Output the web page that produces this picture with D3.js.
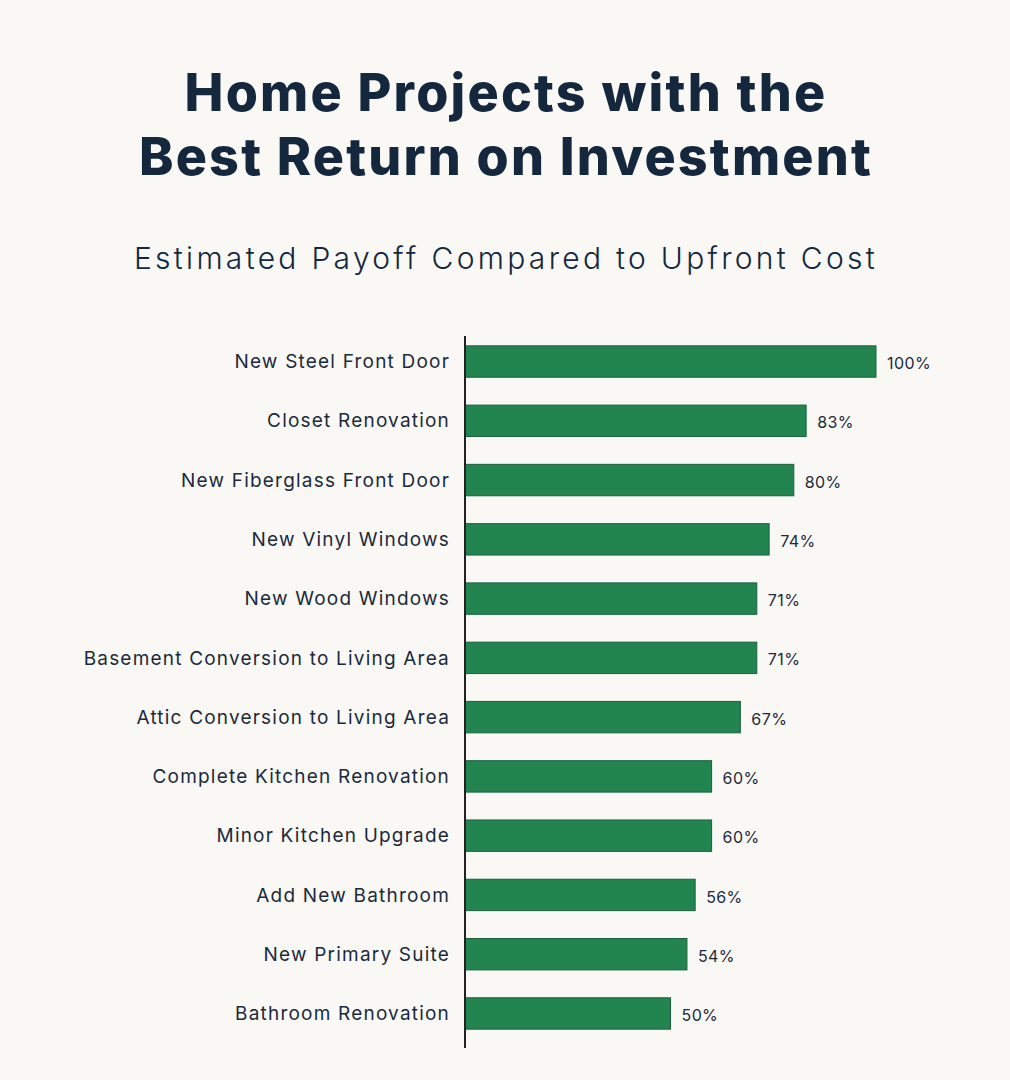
<!DOCTYPE html>
<html>
<head>
<meta charset="utf-8">
<script src="https://cdn.jsdelivr.net/npm/d3@7"></script>
<style>
  html, body { margin: 0; padding: 0; background: #f9f8f5; }
  #chart { width: 1010px; height: 1080px; }
  text { font-family: "Inter", "Noto Sans", sans-serif; }
</style>
</head>
<body>
<div id="chart"></div>
<script>
// Data
const projects = [
    "New Steel Front Door",
    "Closet Renovation",
    "New Fiberglass Front Door",
    "New Vinyl Windows",
    "New Wood Windows",
    "Basement Conversion to Living Area",
    "Attic Conversion to Living Area",
    "Complete Kitchen Renovation",
    "Minor Kitchen Upgrade",
    "Add New Bathroom",
    "New Primary Suite",
    "Bathroom Renovation"
];
const payoff = [100, 83, 80, 74, 71, 71, 67, 60, 60, 56, 54, 50];
const titleLines = ["Home Projects with the", "Best Return on Investment"];
const subtitle = "Estimated Payoff Compared to Upfront Cost";

// Colors
const bar_color = "#22844f";
const bar_edge = "#1b6140";
const text_color = "#1c2a3c";
const title_color = "#14273d";

const W = 1010, H = 1080;
const svg = d3.select("#chart").append("svg")
    .attr("width", W)
    .attr("height", H);

svg.append("rect").attr("width", W).attr("height", H).attr("fill", "#f9f8f5");

// Titles
svg.selectAll(".title")
    .data(titleLines)
    .enter().append("text")
    .attr("class", "title")
    .attr("x", 506)
    .attr("y", (d, i) => 111 + i * 64)
    .attr("text-anchor", "middle")
    .style("font-size", "52px")
    .style("font-weight", 800)
    .style("letter-spacing", "2.2px")
    .style("fill", title_color)
    .text(d => d);

svg.append("text")
    .attr("x", 506)
    .attr("y", 269)
    .attr("text-anchor", "middle")
    .style("font-size", "30px")
    .style("font-weight", 300)
    .style("letter-spacing", "3.3px")
    .style("fill", title_color)
    .text(subtitle);

// Scales
const x0 = 465;
const xScale = d3.scaleLinear().domain([0, 100]).range([x0, 876]);
const yScale = d3.scaleBand()
    .domain(projects)
    .range([331, 1044])
    .paddingInner(0.47)
    .paddingOuter(0.25);

// Bars
svg.selectAll(".bar")
    .data(projects)
    .enter().append("rect")
    .attr("class", "bar")
    .attr("x", xScale(0))
    .attr("y", d => yScale(d))
    .attr("width", (d, i) => xScale(payoff[i]) - xScale(0))
    .attr("height", yScale.bandwidth())
    .attr("fill", bar_color)
    .attr("stroke", bar_edge)
    .attr("stroke-width", 1);

// Category labels
svg.selectAll(".label")
    .data(projects)
    .enter().append("text")
    .attr("class", "label")
    .attr("x", 450)
    .attr("y", d => yScale(d) + yScale.bandwidth() / 2)
    .attr("dy", "0.35em")
    .attr("text-anchor", "end")
    .style("font-size", "19px")
    .style("letter-spacing", "1.2px")
    .style("fill", text_color)
    .text(d => d);

// Value labels
svg.selectAll(".value")
    .data(projects)
    .enter().append("text")
    .attr("class", "value")
    .attr("x", (d, i) => xScale(payoff[i]) + 11)
    .attr("y", d => yScale(d) + yScale.bandwidth() / 2 + 2)
    .attr("dy", "0.35em")
    .style("font-size", "16px")
    .style("letter-spacing", "0.4px")
    .style("fill", text_color)
    .text((d, i) => payoff[i] + "%");

// Axis line
svg.append("line")
    .attr("x1", x0).attr("x2", x0)
    .attr("y1", 336).attr("y2", 1048)
    .attr("stroke", "#222")
    .attr("stroke-width", 2);
</script>
</body>
</html>
